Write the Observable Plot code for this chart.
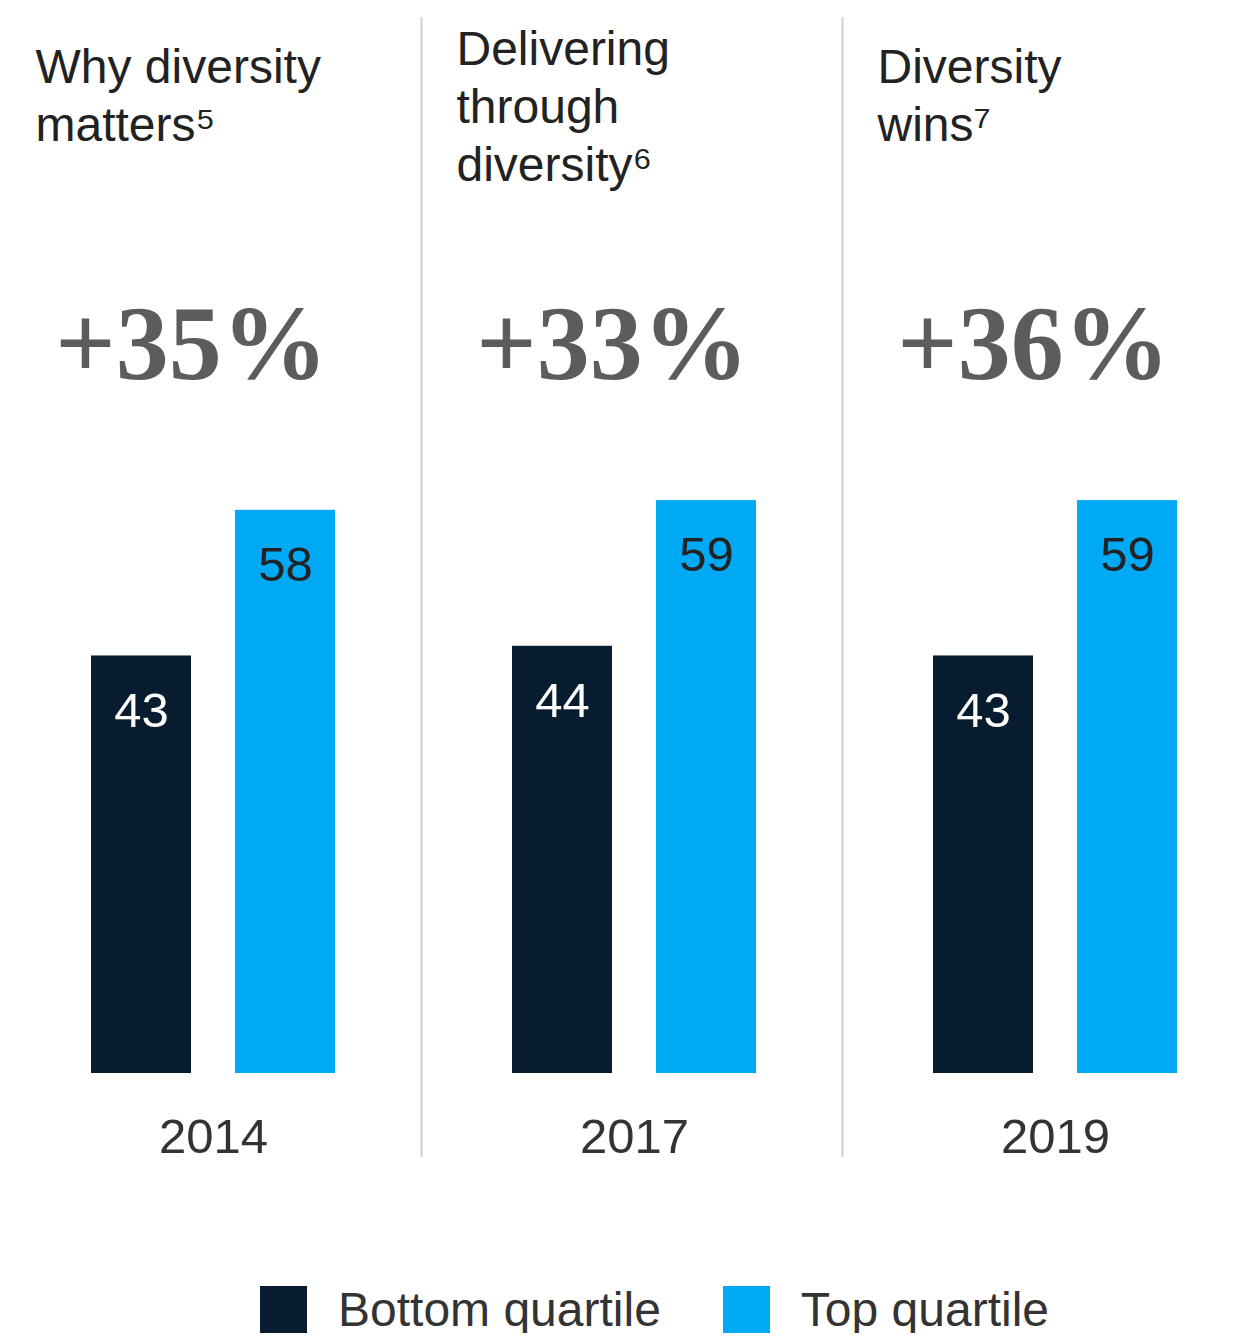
<!DOCTYPE html>
<html>
<head>
<meta charset="utf-8">
<script src="https://cdn.jsdelivr.net/npm/d3@7"></script>
<script src="https://cdn.jsdelivr.net/npm/@observablehq/plot@0.6"></script>
<style>
  html, body { margin: 0; padding: 0; background: #fff; }
  #chart svg { display: block; }
  .legend { display: flex; align-items: center; margin-top: 46px; padding-left: 260px; height: 47px;
            font-family: "Liberation Sans", Arial, sans-serif; font-size: 48px; line-height: 47px; color: #333; }
  .legend .item { display: flex; align-items: center; margin-right: 62px; }
  .legend .sw { width: 47px; height: 47px; margin-right: 31px; }
</style>
</head>
<body>
<div id="chart"></div>
<script>
const years = [2014, 2017, 2019];
const titles = ["Why diversity\nmatters\u2075", "Delivering\nthrough\ndiversity\u2076", "Diversity\nwins\u2077"];
const uplifts = ["+35%", "+33%", "+36%"];
const quartiles = ["Bottom quartile", "Top quartile"];
const bottomValues = [43, 44, 43];
const topValues = [58, 59, 59];
const colors = ["#071c2e", "#00a9f4"];
const labelColors = ["#ffffff", "#222222"];

const bars = years.flatMap((year, i) => [
  {year, quartile: quartiles[0], value: bottomValues[i]},
  {year, quartile: quartiles[1], value: topValues[i]}
]);
const panels = years.map((year, i) => ({year, title: titles[i], uplift: uplifts[i], quartile: quartiles[0]}));

const sansFont = "Liberation Sans, Arial, sans-serif";
const serifFont = "Liberation Serif, Times New Roman, serif";

const plot = Plot.plot({
  width: 1241,
  height: 1240,
  marginLeft: 62,
  marginRight: 36,
  marginTop: 17,
  marginBottom: 1240 - 1157,
  fx: {domain: years, paddingInner: 0.288, paddingOuter: 0, axis: null},
  x: {domain: quartiles, paddingInner: 0.3056, paddingOuter: 0.1944, axis: null},
  y: {domain: [0, 100], range: [1073, 102], axis: null},
  color: {domain: quartiles, range: colors},
  style: {fontFamily: sansFont, background: "#fff"},
  marks: [
    Plot.ruleX(panels.filter((d, i) => i > 0), {fx: "year", x: "quartile", dx: -141, stroke: "#d0d0d0", strokeWidth: 2}),
    Plot.barY(bars, {fx: "year", x: "quartile", y: "value", fill: "quartile"}),
    Plot.text(bars, {fx: "year", x: "quartile", y: "value", text: d => String(d.value),
      fill: d => labelColors[quartiles.indexOf(d.quartile)], lineAnchor: "top", dy: 36,
      fontSize: 49, fontFamily: sansFont}),
    Plot.text(panels, {fx: "year", x: "quartile", y: () => 0, text: d => String(d.year),
      dx: 72, lineAnchor: "top", dy: 45, fontSize: 49, fill: "#333", fontFamily: sansFont}),
    Plot.text(panels.filter(d => d.title.split("\n").length < 3), {fx: "year", x: "quartile", frameAnchor: "top",
      text: "title", textAnchor: "start", lineAnchor: "top", dx: -106, dy: 24, lineHeight: 1.21,
      fontSize: 48, fill: "#222", fontFamily: sansFont}),
    Plot.text(panels.filter(d => d.title.split("\n").length >= 3), {fx: "year", x: "quartile", frameAnchor: "top",
      text: "title", textAnchor: "start", lineAnchor: "top", dx: -106, dy: 6, lineHeight: 1.21,
      fontSize: 48, fill: "#222", fontFamily: sansFont}),
    Plot.text(panels, {fx: "year", x: "quartile", frameAnchor: "top", text: "uplift",
      textAnchor: "middle", lineAnchor: "top", dx: 50, dy: 286, fontSize: 106, fontWeight: "bold",
      fill: "#5c5c5c", fontFamily: serifFont, letterSpacing: "-0.1em"})
  ]
});

const chart = document.getElementById("chart");
chart.appendChild(plot);

const legend = document.createElement("div");
legend.className = "legend";
quartiles.forEach((q, i) => {
  const item = document.createElement("div");
  item.className = "item";
  const sw = document.createElement("span");
  sw.className = "sw";
  sw.style.background = colors[i];
  const label = document.createElement("span");
  label.textContent = q;
  item.appendChild(sw);
  item.appendChild(label);
  legend.appendChild(item);
});
chart.appendChild(legend);
</script>
</body>
</html>
